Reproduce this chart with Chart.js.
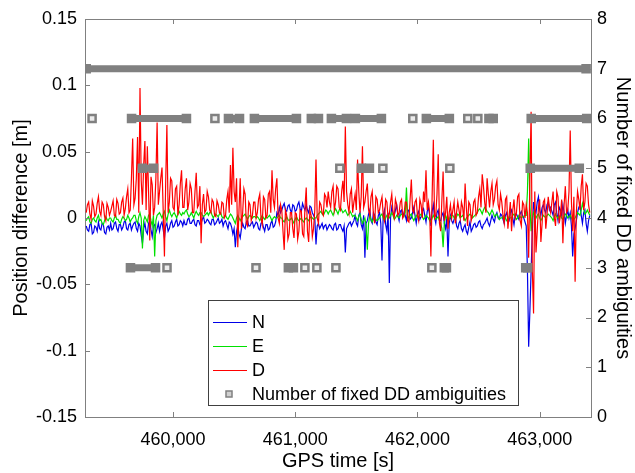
<!DOCTYPE html>
<html>
<head>
<meta charset="utf-8">
<script src="https://cdn.jsdelivr.net/npm/chart.js@4.4.1/dist/chart.umd.min.js"></script>
<style>
  html, body { margin: 0; padding: 0; background: #fff; }
</style>
</head>
<body>
<canvas id="canvas" width="635" height="473"></canvas>
<script>

// TIME OF THE FIRST SAMPLE AND SAMPLE SPACING [s]
const T0 = 459290
const DT = 20

// POSITION DIFFERENCES [m], one row = 200 s
// the *Mid arrays are the readings half way between (T0 + 10 s + i * DT)

const diffN = [
  -0.006, -0.010, -0.004, -0.011, -0.007, -0.003, -0.009, -0.005, -0.012, -0.006,
  -0.004, -0.008, -0.003, -0.010, -0.005, -0.007, -0.002, -0.009, -0.004, -0.006,
  -0.003, -0.010, -0.006, -0.019, -0.004, -0.012, -0.002, -0.014, -0.005, -0.008,
  -0.010, -0.003, -0.015, -0.004, -0.008, -0.002, -0.006, -0.001, -0.005, -0.003,
  -0.002, -0.005, 0.000, -0.004, -0.001, -0.006, -0.002, -0.004, 0.001, -0.003,
  -0.002, -0.005, -0.001, -0.004, 0.000, -0.003, -0.006, -0.002, -0.008, -0.004,
  -0.012, -0.022, -0.006, -0.015, -0.004, -0.008, -0.002, -0.006, -0.003, -0.005,
  -0.004, -0.009, -0.003, -0.010, -0.005, -0.008, -0.002, -0.006, 0.004, 0.008,
  0.006, 0.011, 0.005, 0.010, 0.004, 0.009, 0.006, 0.012, 0.005, 0.008,
  0.010, 0.004, 0.008, 0.002, -0.020, -0.004, -0.006, -0.008, -0.005, -0.007,
  -0.006, -0.009, -0.004, -0.008, -0.005, -0.010, -0.026, -0.006, -0.003, -0.004,
  0.002, -0.006, 0.004, -0.008, -0.030, -0.002, 0.006, -0.004, 0.002, -0.005,
  0.004, -0.032, 0.006, -0.010, -0.049, 0.008, 0.002, 0.010, -0.002, 0.006,
  0.004, -0.002, 0.006, 0.000, 0.008, -0.004, 0.005, 0.001, 0.007, -0.003,
  0.008, -0.006, 0.010, -0.004, 0.006, -0.002, 0.004, -0.008, -0.029, 0.002,
  -0.004, 0.002, -0.008, -0.002, -0.010, -0.005, -0.012, -0.003, -0.008, -0.004,
  -0.006, -0.002, -0.008, -0.004, 0.000, -0.006, 0.002, -0.003, 0.004, -0.001,
  0.002, -0.004, 0.004, -0.002, 0.006, -0.005, 0.003, -0.001, 0.005, 0.000,
  -0.006, -0.097, -0.040, 0.012, 0.004, 0.016, 0.002, 0.010, 0.004, 0.012,
  0.008, 0.002, 0.012, -0.002, 0.006, 0.010, -0.004, 0.006, 0.004, -0.029,
  -0.008, 0.004, 0.010, -0.004, 0.006, -0.010, 0.002
]

const diffNMid = [
  -0.009, -0.005, -0.012, -0.006, -0.010, -0.008, -0.004, -0.011, -0.007, -0.009,
  -0.009, -0.004, -0.008, -0.005, -0.009, -0.003, -0.008, -0.005, -0.009, -0.004,
  -0.008, -0.004, -0.013, -0.008, -0.010, -0.004, -0.009, -0.006, -0.011, -0.004,
  -0.005, -0.009, -0.006, -0.010, -0.004, -0.007, -0.003, -0.006, -0.002, -0.006,
  -0.005, -0.001, -0.004, -0.002, -0.005, -0.002, -0.005, -0.001, -0.004, -0.001,
  -0.004, -0.001, -0.005, -0.002, -0.004, -0.001, -0.003, -0.005, -0.003, -0.007,
  -0.008, -0.010, -0.012, -0.008, -0.007, -0.003, -0.006, -0.004, -0.007, -0.003,
  -0.008, -0.004, -0.007, -0.005, -0.009, -0.004, -0.007, -0.003, 0.002, 0.004,
  0.009, 0.006, 0.009, 0.006, 0.010, 0.005, 0.010, 0.007, 0.011, 0.006,
  0.006, 0.009, 0.004, 0.000, -0.006, -0.008, -0.004, -0.006, -0.009, -0.005,
  -0.008, -0.005, -0.009, -0.005, -0.008, -0.006, -0.008, -0.004, -0.006, -0.002,
  -0.004, 0.002, -0.005, 0.002, -0.004, 0.003, -0.002, 0.004, -0.003, 0.002,
  -0.004, 0.002, -0.005, 0.004, 0.000, 0.004, 0.006, 0.002, 0.005, 0.001,
  0.002, 0.005, -0.001, 0.004, 0.002, 0.003, -0.001, 0.005, 0.002, 0.005,
  0.002, 0.005, 0.000, 0.004, -0.002, 0.002, -0.004, 0.000, -0.004, -0.002,
  -0.001, -0.006, -0.004, -0.008, -0.007, -0.010, -0.007, -0.010, -0.005, -0.007,
  -0.003, -0.006, -0.005, -0.002, -0.004, -0.002, -0.001, 0.002, 0.000, 0.003,
  -0.001, 0.002, -0.001, 0.004, 0.000, 0.002, 0.001, 0.003, 0.002, -0.003,
  -0.040, -0.070, -0.010, 0.006, 0.012, 0.006, 0.008, 0.006, 0.010, 0.006,
  0.005, 0.010, 0.004, 0.008, 0.002, 0.004, 0.002, 0.000, -0.006, -0.012,
  -0.002, 0.008, 0.002, 0.004, -0.004, -0.002
]

const diffE = [
  -0.002, 0.001, -0.004, 0.000, -0.003, 0.002, -0.001, -0.005, 0.001, -0.002,
  0.000, -0.003, 0.002, -0.001, -0.004, 0.001, -0.002, 0.002, -0.003, 0.000,
  0.002, -0.004, 0.004, -0.023, 0.001, -0.003, 0.003, -0.006, -0.029, 0.002,
  0.004, 0.000, 0.005, -0.002, 0.006, 0.001, 0.004, 0.000, 0.005, 0.002,
  0.003, 0.006, 0.001, 0.004, 0.000, 0.005, 0.002, 0.004, 0.001, 0.003,
  0.002, 0.005, 0.000, 0.003, 0.001, 0.004, 0.000, 0.002, -0.001, 0.003,
  0.000, -0.004, 0.002, -0.002, 0.001, 0.003, -0.001, 0.002, 0.000, 0.001,
  0.001, -0.002, 0.002, -0.001, 0.000, 0.002, -0.002, 0.001, 0.000, 0.002,
  0.000, -0.003, 0.001, -0.002, 0.000, -0.004, 0.001, -0.002, 0.000, -0.003,
  0.000, -0.002, 0.001, -0.001, 0.000, 0.003, 0.005, 0.002, 0.006, 0.003,
  0.006, 0.002, 0.007, 0.003, 0.008, 0.004, 0.006, 0.002, 0.005, 0.001,
  0.002, -0.002, 0.003, -0.004, 0.000, -0.024, 0.002, -0.003, 0.001, -0.002,
  0.000, 0.003, -0.002, 0.002, 0.000, 0.004, -0.001, 0.002, 0.000, 0.003,
  0.001, 0.023, 0.000, 0.003, -0.002, 0.002, 0.000, 0.003, -0.001, 0.002,
  0.000, -0.003, 0.002, -0.001, 0.001, -0.004, -0.022, 0.002, -0.002, 0.001,
  0.002, -0.001, 0.003, 0.000, 0.002, -0.002, 0.001, 0.003, 0.000, 0.002,
  0.004, 0.007, 0.003, 0.008, 0.005, 0.002, 0.006, 0.001, 0.003, -0.001,
  0.000, 0.002, -0.002, 0.001, 0.000, 0.003, -0.001, 0.002, 0.000, 0.001,
  0.002, 0.060, -0.010, 0.004, 0.000, 0.003, -0.002, 0.002, 0.000, 0.003,
  0.001, -0.002, 0.003, 0.000, 0.002, -0.001, 0.003, 0.000, 0.002, -0.002,
  0.000, 0.004, 0.002, 0.011, 0.003, 0.006, 0.002
]

const diffEMid = [
  0.000, -0.003, -0.001, -0.002, 0.000, -0.002, -0.004, -0.002, -0.001, 0.000,
  -0.002, 0.000, -0.001, -0.003, -0.001, 0.000, -0.001, 0.000, -0.001, 0.002,
  -0.002, 0.001, 0.000, -0.002, -0.001, 0.002, -0.002, 0.002, -0.002, 0.003,
  0.002, 0.003, 0.001, 0.003, 0.003, 0.003, 0.002, 0.003, 0.003, 0.004,
  0.005, 0.003, 0.002, 0.002, 0.003, 0.003, 0.004, 0.002, 0.002, 0.004,
  0.004, 0.002, 0.002, 0.002, 0.003, 0.001, 0.001, 0.000, 0.001, 0.002,
  -0.002, 0.000, 0.000, 0.000, 0.002, 0.001, 0.001, 0.001, 0.001, 0.000,
  0.000, 0.000, 0.000, 0.001, 0.001, 0.000, 0.000, 0.000, 0.001, 0.000,
  -0.002, -0.001, -0.001, -0.001, -0.002, -0.001, -0.001, -0.001, -0.002, -0.001,
  -0.001, 0.000, 0.000, 0.000, 0.002, 0.004, 0.003, 0.004, 0.005, 0.005,
  0.004, 0.005, 0.005, 0.006, 0.006, 0.005, 0.004, 0.003, 0.003, 0.002,
  0.000, 0.001, -0.001, -0.002, -0.006, -0.004, -0.001, -0.001, -0.001, -0.001,
  0.002, 0.000, 0.000, 0.001, 0.002, 0.002, 0.000, 0.001, 0.002, 0.002,
  0.004, 0.002, 0.002, 0.000, 0.000, 0.001, 0.002, 0.001, 0.000, 0.001,
  -0.002, 0.000, 0.000, 0.000, -0.002, -0.008, -0.004, 0.000, -0.001, 0.002,
  0.000, 0.001, 0.002, 0.001, 0.000, 0.000, 0.002, 0.002, 0.001, 0.003,
  0.006, 0.005, 0.006, 0.007, 0.004, 0.004, 0.004, 0.002, 0.001, 0.000,
  0.001, 0.000, -0.001, 0.000, 0.002, 0.001, 0.000, 0.001, 0.001, 0.002,
  0.020, 0.010, 0.000, 0.002, 0.002, 0.000, 0.000, 0.001, 0.002, 0.002,
  0.000, 0.001, 0.001, 0.001, 0.000, 0.001, 0.002, 0.001, 0.000, -0.001,
  0.002, 0.003, 0.006, 0.007, 0.004, 0.004
]

const diffD = [
  0.004, 0.012, -0.001, 0.009, 0.003, 0.016, 0.002, 0.010, -0.002, 0.008,
  0.005, 0.013, 0.001, 0.011, 0.004, 0.015, 0.007, 0.022, 0.006, 0.060,
  0.015, 0.061, 0.098, 0.010, 0.058, 0.054, -0.017, 0.025, 0.008, 0.072,
  0.020, 0.038, -0.029, 0.070, 0.012, 0.028, 0.006, 0.024, 0.010, 0.036,
  0.008, 0.030, 0.012, 0.022, 0.004, 0.034, 0.010, -0.019, 0.018, 0.006,
  0.016, 0.004, 0.012, 0.001, 0.010, 0.003, 0.011, 0.002, 0.020, 0.040,
  0.053, 0.012, -0.022, 0.030, 0.004, 0.018, -0.006, 0.010, 0.002, 0.012,
  0.004, 0.018, -0.005, 0.014, 0.002, 0.020, 0.036, 0.008, 0.030, -0.004,
  0.006, -0.024, 0.002, -0.012, 0.004, -0.015, 0.003, -0.010, 0.005, -0.014,
  0.023, -0.018, 0.002, -0.008, 0.044, -0.004, 0.010, 0.002, 0.016, 0.020,
  0.008, 0.024, 0.012, 0.022, 0.006, 0.028, 0.069, 0.010, 0.018, 0.004,
  0.018, 0.044, 0.004, 0.054, 0.012, 0.026, 0.002, 0.020, -0.004, 0.014,
  0.006, 0.016, -0.002, 0.012, 0.003, 0.018, 0.000, 0.010, 0.004, 0.014,
  0.002, 0.012, -0.003, 0.029, 0.004, 0.014, -0.002, 0.010, 0.020, 0.036,
  0.012, -0.029, 0.059, 0.002, 0.048, -0.010, 0.035, 0.004, -0.008, 0.010,
  0.006, -0.004, 0.012, 0.000, 0.008, 0.026, -0.006, 0.010, 0.002, 0.014,
  0.004, 0.022, 0.033, 0.012, 0.030, 0.008, 0.026, 0.014, 0.028, 0.006,
  0.012, -0.004, 0.016, 0.002, -0.010, 0.014, 0.004, 0.018, -0.006, 0.010,
  0.010, -0.030, 0.080, -0.072, -0.026, 0.008, -0.018, 0.012, -0.008, 0.016,
  0.004, 0.020, -0.006, 0.016, 0.002, -0.019, 0.024, 0.006, 0.066, -0.010,
  -0.048, 0.020, 0.006, 0.033, 0.012, 0.024, 0.004
]

const diffDMid = [
  0.010, 0.003, 0.013, 0.001, 0.011, 0.005, 0.012, 0.001, 0.011, 0.002,
  0.009, 0.002, 0.014, 0.003, 0.012, 0.002, 0.016, 0.004, 0.030, 0.010,
  0.030, 0.004, 0.028, 0.040, 0.006, 0.020, 0.031, 0.002, 0.030, 0.010,
  0.030, 0.005, 0.026, 0.004, 0.030, 0.008, 0.022, 0.002, 0.026, 0.008,
  0.022, 0.006, 0.026, 0.004, 0.020, 0.008, 0.024, 0.010, 0.004, 0.020,
  0.006, 0.014, 0.002, 0.013, 0.004, 0.012, 0.000, 0.014, 0.004, 0.010,
  0.020, 0.030, 0.006, -0.008, 0.022, -0.004, 0.012, -0.002, 0.012, 0.000,
  0.014, 0.000, 0.016, 0.000, 0.018, 0.004, 0.014, 0.022, 0.000, 0.010,
  -0.010, 0.006, -0.016, 0.004, -0.008, 0.004, -0.016, 0.006, -0.012, 0.008,
  -0.010, 0.006, -0.014, 0.006, 0.000, 0.012, 0.004, 0.018, 0.008, 0.012,
  0.020, 0.006, 0.024, 0.008, 0.020, 0.012, 0.020, 0.004, 0.022, 0.012,
  0.006, 0.020, 0.016, 0.008, 0.020, 0.006, 0.016, 0.002, 0.016, 0.004,
  0.012, 0.002, 0.014, 0.000, 0.012, 0.004, 0.014, 0.002, 0.012, 0.000,
  0.012, -0.002, 0.014, 0.006, 0.012, 0.002, 0.014, 0.000, 0.012, 0.006,
  0.004, 0.016, 0.000, 0.018, -0.004, 0.014, -0.002, 0.016, 0.004, 0.000,
  0.012, 0.004, 0.006, 0.012, -0.002, 0.008, 0.012, -0.002, 0.012, 0.002,
  0.016, 0.008, 0.024, 0.004, 0.018, 0.020, 0.010, 0.024, 0.010, 0.018,
  0.002, 0.014, -0.008, 0.012, 0.006, 0.000, 0.016, -0.002, 0.012, 0.000,
  0.004, 0.030, -0.040, 0.020, -0.010, 0.014, -0.004, 0.014, 0.002, 0.008,
  0.012, 0.000, 0.020, -0.004, 0.014, 0.010, 0.004, 0.020, 0.012, 0.016,
  0.004, 0.014, 0.024, 0.006, 0.026, 0.010
]

// FIXED DD AMBIGUITIES: runs of a constant count, from start to end [s]
const ambStart = [459290,
  459338, 459661, 460343, 460454, 460666, 461132, 461296, 461492, 461962, 462073, 462412, 462494, 462585, 462931,
  459751, 461365, 461541, 461717, 462265, 462923,
  459652, 459951, 460679, 460944, 461079, 461177, 461333, 462118, 462220, 462886]
const ambEnd = [463380,
  459338, 460110, 460343, 460544, 461010, 461190, 461419, 461705, 461962, 462261, 462412, 462494, 462620, 463385,
  459841, 461365, 461607, 461717, 462265, 463324,
  459857, 459951, 460679, 460985, 461079, 461177, 461333, 462118, 462237, 462902]
const ambCount = [7,
  6, 6, 6, 6, 6, 6, 6, 6, 6, 6, 6, 6, 6, 6,
  5, 5, 5, 5, 5, 5,
  3, 3, 3, 3, 3, 3, 3, 3, 3, 3]

// TICKS
const xTicks = [460000, 461000, 462000, 463000]
const yTicks = [-0.15, -0.1, -0.05, 0, 0.05, 0.1, 0.15]
const y2Ticks = [0, 1, 2, 3, 4, 5, 6, 7, 8]

const FONT = "'Liberation Sans', Arial, sans-serif"
const GRAY = '#808080'

// samples with the half-step readings slotted in between
const series = (vals, mids) => {
  let out = []
  vals.forEach((v, i) => {
    out.push({ x: T0 + i * DT, y: v })
    if (i < mids.length) out.push({ x: T0 + i * DT + DT / 2, y: mids[i] })
  })
  return out
}

// one point per run end, null between runs; single epochs keep the hollow look
let ambData = []
let ambFill = []
ambStart.forEach((s, i) => {
  const single = ambEnd[i] === s
  ambData.push({ x: s, y: ambCount[i] })
  ambFill.push(single ? '#ececec' : GRAY)
  if (!single) {
    ambData.push({ x: ambEnd[i], y: ambCount[i] })
    ambFill.push(GRAY)
  }
  ambData.push({ x: ambEnd[i], y: null })
  ambFill.push(GRAY)
})

//INWARD TICKS AND TOP EDGE (matlab look)
const boxTicks = {
  id: 'boxTicks',
  afterDraw(chart) {
    const { ctx, chartArea: a, scales } = chart
    ctx.save()
    ctx.strokeStyle = GRAY
    ctx.lineWidth = 1
    ctx.beginPath()
    ctx.moveTo(a.left, a.top + 0.5)
    ctx.lineTo(a.right, a.top + 0.5)
    scales.x.ticks.forEach(t => {
      const px = Math.round(scales.x.getPixelForValue(t.value)) + 0.5
      ctx.moveTo(px, a.bottom); ctx.lineTo(px, a.bottom - 5)
      ctx.moveTo(px, a.top); ctx.lineTo(px, a.top + 5)
    })
    scales.y.ticks.forEach(t => {
      const py = Math.round(scales.y.getPixelForValue(t.value)) + 0.5
      ctx.moveTo(a.left, py); ctx.lineTo(a.left + 5, py)
    })
    scales.y1.ticks.forEach(t => {
      const py = Math.round(scales.y1.getPixelForValue(t.value)) + 0.5
      ctx.moveTo(a.right, py); ctx.lineTo(a.right - 5, py)
    })
    ctx.stroke()
    ctx.restore()
  }
}

//LEGEND BOX INSIDE THE PLOT
const boxLegend = {
  id: 'boxLegend',
  afterDraw(chart) {
    const { ctx, chartArea: a } = chart
    const x0 = a.left + 123, y0 = a.top + 281, w = 310, h = 105
    ctx.save()
    ctx.fillStyle = '#fff'
    ctx.fillRect(x0, y0, w, h)
    ctx.strokeStyle = '#404040'
    ctx.lineWidth = 1
    ctx.strokeRect(x0 + 0.5, y0 + 0.5, w, h)
    ctx.font = '18px ' + FONT
    ctx.textBaseline = 'middle'
    chart.data.datasets.forEach((ds, i) => {
      const yy = y0 + 22 + i * 24
      if (ds.yAxisID === 'y1') {
        ctx.fillStyle = '#d0d0d0'
        ctx.strokeStyle = GRAY
        ctx.lineWidth = 1.5
        ctx.fillRect(x0 + 18, yy - 3, 6, 6)
        ctx.strokeRect(x0 + 18, yy - 3, 6, 6)
      } else {
        ctx.strokeStyle = ds.borderColor
        ctx.lineWidth = 1
        ctx.beginPath()
        ctx.moveTo(x0 + 5, yy + 0.5)
        ctx.lineTo(x0 + 39, yy + 0.5)
        ctx.stroke()
      }
      ctx.fillStyle = '#000'
      ctx.fillText(ds.label, x0 + 44, yy + 1)
    })
    ctx.restore()
  }
}

Chart.defaults.font.family = FONT
Chart.defaults.color = '#000'

const ctx = document.getElementById('canvas').getContext('2d')
const chart = new Chart(ctx, {
  type: 'line',
  data: {
    datasets: [{
      label: 'N',
      data: series(diffN, diffNMid),
      borderColor: '#0000e8',
      borderWidth: 1.2,
      pointRadius: 0,
      yAxisID: 'y',
      order: 3
    }, {
      label: 'E',
      data: series(diffE, diffEMid),
      borderColor: '#00e000',
      borderWidth: 1.2,
      pointRadius: 0,
      yAxisID: 'y',
      order: 2
    }, {
      label: 'D',
      data: series(diffD, diffDMid),
      borderColor: '#ff0000',
      borderWidth: 1.2,
      pointRadius: 0,
      yAxisID: 'y',
      order: 1
    }, {
      label: 'Number of fixed DD ambiguities',
      data: ambData,
      yAxisID: 'y1',
      borderColor: GRAY,
      borderWidth: 7,
      borderCapStyle: 'butt',
      spanGaps: false,
      pointStyle: 'rect',
      pointRadius: 5,
      pointBorderWidth: 2.5,
      pointBorderColor: GRAY,
      pointBackgroundColor: (c) => ambFill[c.dataIndex],
      order: 0
    }]
  },
  options: {
    responsive: false,
    animation: false,
    layout: { padding: { top: 19, left: 0, right: 0, bottom: 0 } },
    plugins: {
      legend: { display: false },
      tooltip: { enabled: false }
    },
    scales: {
      x: {
        type: 'linear',
        min: 459280,
        max: 463420,
        afterBuildTicks: (s) => { s.ticks = xTicks.map(v => ({ value: v })) },
        afterFit: (s) => { s.height = 56 },
        grid: { display: false, drawTicks: false },
        border: { color: GRAY },
        ticks: {
          font: { size: 18 },
          padding: 12,
          maxRotation: 0,
          callback: (v) => v.toLocaleString('en-US')
        },
        title: { display: true, text: 'GPS time [s]', font: { size: 20 }, padding: { top: 0, bottom: 0 } }
      },
      y: {
        position: 'left',
        min: -0.15,
        max: 0.15,
        afterBuildTicks: (s) => { s.ticks = yTicks.map(v => ({ value: v })) },
        afterFit: (s) => { s.width = 85 },
        grid: { display: false, drawTicks: false },
        border: { color: GRAY },
        ticks: { font: { size: 18 }, padding: 8, callback: (v) => String(v) },
        title: { display: true, text: 'Position difference [m]', font: { size: 20 }, padding: { top: 9, bottom: 0 } }
      },
      y1: {
        position: 'right',
        min: 0,
        max: 8,
        afterBuildTicks: (s) => { s.ticks = y2Ticks.map(v => ({ value: v })) },
        afterFit: (s) => { s.width = 44 },
        grid: { display: false, drawTicks: false },
        border: { color: GRAY },
        ticks: { font: { size: 18 }, padding: 6 },
        title: { display: true, text: 'Number of fixed DD ambiguities', font: { size: 20 }, padding: { top: 0, bottom: 0 } }
      }
    }
  },
  plugins: [boxTicks, boxLegend]
})

</script>
</body>
</html>
